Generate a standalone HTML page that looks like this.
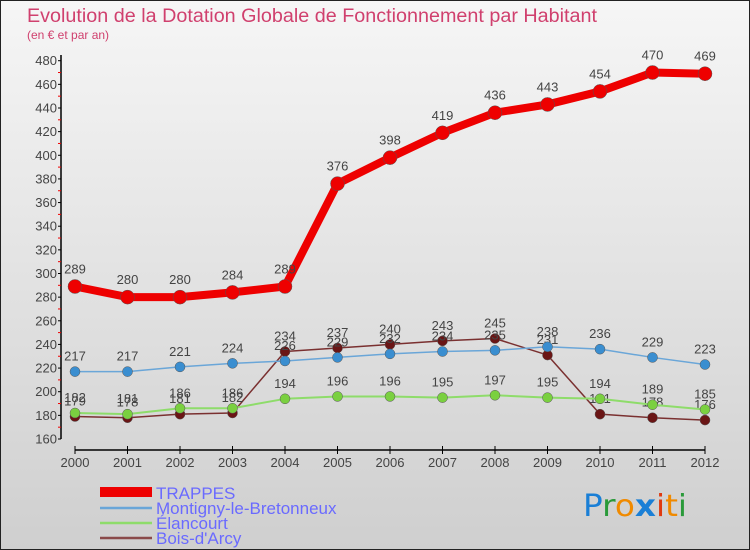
<!DOCTYPE html>
<html><head><meta charset="utf-8"><style>
body{margin:0}
svg{display:block;font-family:"Liberation Sans",sans-serif}
</style></head><body>
<svg width="750" height="550" viewBox="0 0 750 550">
<defs><linearGradient id="bg" x1="0" y1="0" x2="0" y2="1"><stop offset="0" stop-color="#f6f6f6"/><stop offset="1" stop-color="#cfcfcf"/></linearGradient></defs>
<rect x="0.5" y="0.5" width="749" height="549" fill="url(#bg)" stroke="#222"/>
<text x="27" y="22" font-size="19" fill="#d0406e" textLength="570" lengthAdjust="spacingAndGlyphs">Evolution de la Dotation Globale de Fonctionnement par Habitant</text>
<text x="27" y="39" font-size="12" fill="#d0406e">(en € et par an)</text>
<g id="axes"></g>
<g id="series"></g>
<g id="legend">
<rect x="100" y="487" width="52" height="10" fill="#e00"/>
<text x="156" y="499" font-size="17" fill="#6a6aff">TRAPPES</text>
<line x1="100" x2="152" y1="508" y2="508" stroke="#6aa6d8" stroke-width="2.5"/>
<text x="156" y="514" font-size="17" fill="#6a6aff">Montigny-le-Bretonneux</text>
<line x1="100" x2="152" y1="523" y2="523" stroke="#8edc6a" stroke-width="2.5"/>
<text x="156" y="529" font-size="17" fill="#6a6aff">Élancourt</text>
<line x1="100" x2="152" y1="538" y2="538" stroke="#8a4a4a" stroke-width="2.5"/>
<text x="156" y="544" font-size="17" fill="#6a6aff">Bois-d'Arcy</text>
</g>
<g font-size="30" font-family="'DejaVu Sans',sans-serif">
<text x="583" y="516" textLength="104" lengthAdjust="spacingAndGlyphs"><tspan fill="#1a7fd6">P</tspan><tspan fill="#2a9a3a">r</tspan><tspan fill="#f08a00">o</tspan><tspan fill="#1a7fd6" font-weight="bold">x</tspan><tspan fill="#e03a10">i</tspan><tspan fill="#f08a00">t</tspan><tspan fill="#2a9a3a">i</tspan></text>
</g>
</svg>
<script>
const years=["2000","2001","2002","2003","2004","2005","2006","2007","2008","2009","2010","2011","2012"];
const trappes=[289,280,280,284,289,376,398,419,436,443,454,470,469];
const montigny=[217,217,221,224,226,229,232,234,235,238,236,229,223];
const elancourt=[182,181,186,186,194,196,196,195,197,195,194,189,185];
const boisdarcy=[179,178,181,182,234,237,240,243,245,231,181,178,176];
const yTicks=[160,180,200,220,240,260,280,300,320,340,360,380,400,420,440,460,480];
const NS="http://www.w3.org/2000/svg";
const x0=75,xStep=52.5,yMin=160,yMax=480,yTop=60.7,yBot=439;
function X(i){return x0+i*xStep;}
function Y(v){return yBot-(v-yMin)*(yBot-yTop)/(yMax-yMin);}
function mk(tag,attrs,parent){const e=document.createElementNS(NS,tag);for(const k in attrs)e.setAttribute(k,attrs[k]);parent.appendChild(e);return e;}
const axes=document.getElementById('axes');
let ya=mk('line',{x1:61,x2:61,y1:55,y2:Y(160),stroke:'#000','stroke-width':1.5},axes);


yTicks.forEach(v=>{
 mk('line',{x1:58,x2:61,y1:Y(v),y2:Y(v),stroke:'#000'},axes);
 if(v<480){mk('line',{x1:58,x2:61,y1:Y(v+10),y2:Y(v+10),stroke:'#e00'},axes);}
 const t=mk('text',{x:57,y:Y(v)+4.5,'font-size':13,fill:'#444','text-anchor':'end'},axes);
 t.textContent=v;
 
 
});
let xa=mk('line',{x1:X(0),x2:X(12),y1:450,y2:450,stroke:'#000','stroke-width':1.5},axes);


years.forEach((y,i)=>{
 mk('line',{x1:X(i),x2:X(i),y1:446,y2:454,stroke:'#000'},axes);
 const t=mk('text',{x:X(i),y:467,'font-size':13,fill:'#444','text-anchor':'middle'},axes);
 t.textContent=y;
 
 
});
const sg=document.getElementById('series');
function series(data,name,color,w,r,fill){
 const g=mk('g',{},sg);
 
 
 const p=mk('polyline',{points:data.map((v,i)=>X(i)+','+Y(v)).join(' '),fill:'none',stroke:color,'stroke-width':w,'stroke-linejoin':'round'},g);
 
 
 data.forEach((v,i)=>{
  const c=mk('circle',{cx:X(i),cy:Y(v),r:r,fill:fill,stroke:'#555','stroke-width':0.5},g);
  
  
  const t=mk('text',{x:X(i),y:Y(v)-r-6,'font-size':13,fill:'#444','text-anchor':'middle'},g);
  t.textContent=v;
  
  
 });
}
series(boisdarcy,'bois-darcy','#7a3030',1.5,5,'#6a1515');
series(elancourt,'elancourt','#8edc6a',2,5,'#7ad040');
series(montigny,'montigny','#6aa6d8',1.5,5,'#3a8ed0');
series(trappes,'trappes','#e00',8,7,'#e00');
</script>
</body></html>
